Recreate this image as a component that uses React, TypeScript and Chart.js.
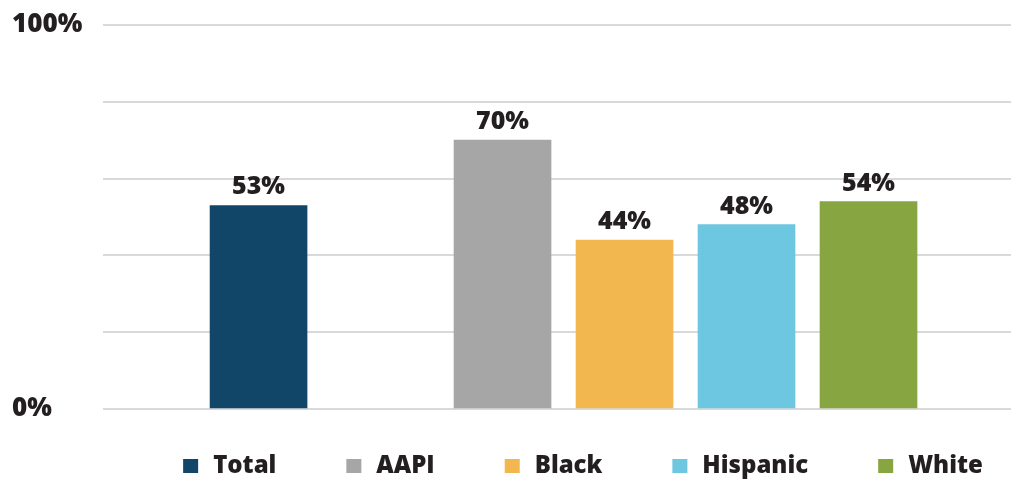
import React, { useEffect, useRef } from "react";
import { Chart, registerables } from "chart.js";

Chart.register(...registerables);

// Slot layout of the categories (blank slot = gap after Total)
const slots = ["Total", "", "AAPI", "Black", "Hispanic", "White"];
const categories = ["Total", "AAPI", "Black", "Hispanic", "White"];
const values = [53, 70, 44, 48, 54];
const colors = ["#124669", "#a6a6a6", "#f2b74f", "#6dc7e0", "#87a541"];
const yTickLabels: Record<number, string> = { 0: "0%", 100: "100%" };

const FONT = "'Open Sans', Lato, 'DejaVu Sans', sans-serif";
const TEXT = "#231f20";

const valueLabels = {
  id: "valueLabels",
  afterDatasetsDraw(chart: any) {
    const ctx = chart.ctx;
    ctx.save();
    ctx.font = `800 25px ${FONT}`;
    ctx.fillStyle = TEXT;
    ctx.textAlign = "center";
    ctx.textBaseline = "alphabetic";
    chart.data.datasets.forEach((ds: any, i: number) => {
      const meta = chart.getDatasetMeta(i);
      meta.data.forEach((el: any, j: number) => {
        const v = ds.data[j].y;
        ctx.fillText(`${v}%`, el.x, el.y - 11);
      });
    });
    ctx.restore();
  },
};

const customLegend = {
  id: "customLegend",
  afterDraw(chart: any) {
    const ctx = chart.ctx;
    const area = chart.chartArea;
    ctx.save();
    ctx.font = `800 24px ${FONT}`;
    const box = 15;
    const boxGap = 15;
    const itemGap = 70;
    const items = chart.data.datasets.map((ds: any) => {
      const w = ctx.measureText(ds.label).width;
      return { label: ds.label, color: ds.backgroundColor, w, total: box + boxGap + w };
    });
    const W = items.reduce((s: number, it: any) => s + it.total, 0) + itemGap * (items.length - 1);
    const cx = (area.left + area.right) / 2 + 26;
    let x = cx - W / 2;
    const baseline = area.bottom + 64;
    items.forEach((it: any) => {
      ctx.fillStyle = it.color;
      ctx.fillRect(x, baseline - 14, box, 14);
      ctx.fillStyle = TEXT;
      ctx.textAlign = "left";
      ctx.textBaseline = "alphabetic";
      ctx.fillText(it.label, x + box + boxGap, baseline);
      x += it.total + itemGap;
    });
    ctx.restore();
  },
};

export default function App() {
  const ref = useRef<HTMLCanvasElement | null>(null);
  useEffect(() => {
    document.body.style.margin = "0";
    if (!ref.current) return;
    const chart = new Chart(ref.current, {
      type: "bar",
      data: {
        datasets: categories.map((c, i) => ({
          label: c,
          data: [{ x: slots.indexOf(c), y: values[i] }],
          backgroundColor: colors[i],
          barThickness: 97,
          grouped: false,
        })),
      },
      options: {
        animation: false,
        responsive: true,
        maintainAspectRatio: false,
        layout: { padding: { left: 12, right: 0, top: 25, bottom: 70 } },
        plugins: {
          legend: { display: false },
          tooltip: { enabled: false },
        },
        scales: {
          x: {
            type: "linear",
            display: false,
            offset: false,
            min: -1.275,
            max: 6.168,
          },
          y: {
            min: 0,
            max: 100,
            border: { display: false },
            grid: { color: "#d9d9d9", lineWidth: 2, drawTicks: false },
            ticks: {
              stepSize: 20,
              crossAlign: "far",
              color: TEXT,
              font: { family: FONT, size: 26, weight: 800 },
              callback: (v: any) => yTickLabels[v] ?? "",
            },
            afterFit: (scale: any) => {
              scale.width = 91;
            },
          },
        },
      } as any,
      plugins: [valueLabels, customLegend],
    });
    return () => chart.destroy();
  }, []);
  return (
    <div style={{ width: 1011, height: 479, position: "relative" }}>
      <canvas ref={ref} />
    </div>
  );
}
